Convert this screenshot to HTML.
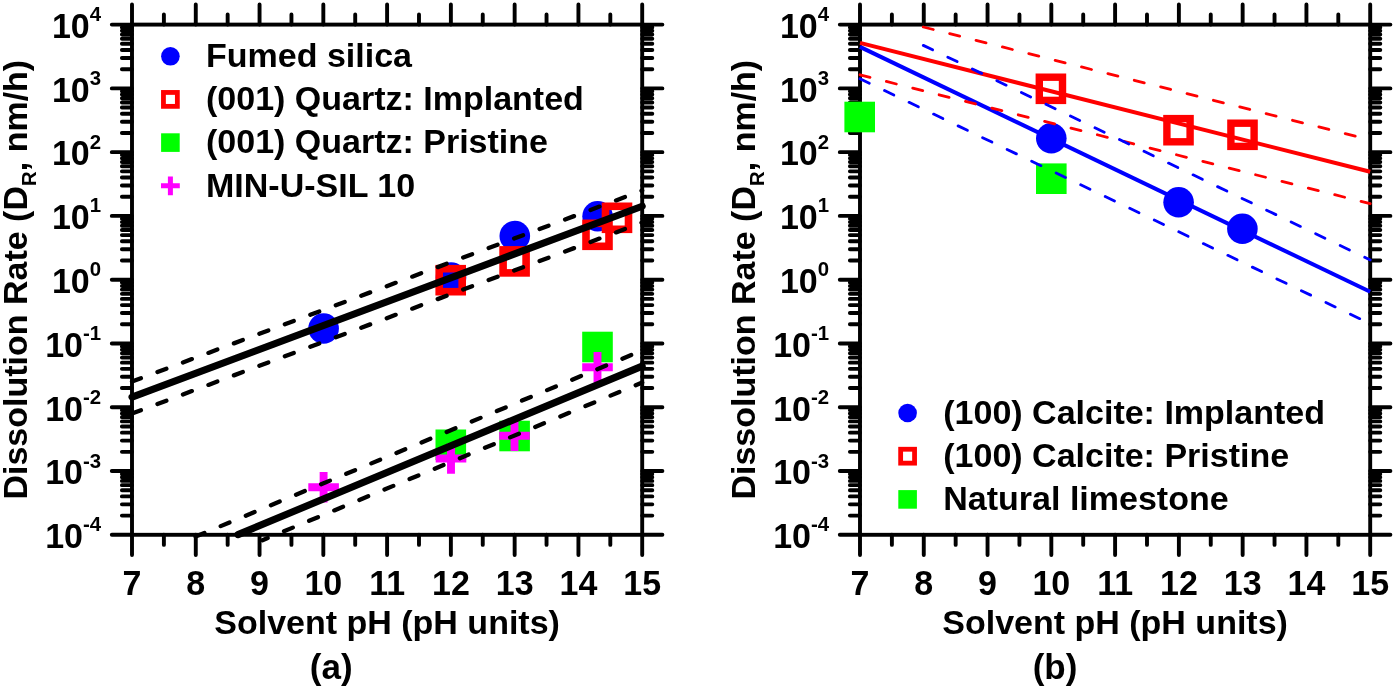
<!DOCTYPE html>
<html lang="en"><head><meta charset="utf-8"><title>Dissolution rate vs solvent pH</title>
<style>html,body{margin:0;padding:0;background:#fff}svg{display:block;will-change:transform}text{font-family:'Liberation Sans', Arial, Helvetica, sans-serif}</style>
</head><body>
<svg width="1395" height="688" viewBox="0 0 1395 688">
<rect width="1395" height="688" fill="#fff"/>
<g id="axes-a" stroke="#000" fill="none" stroke-linecap="round">
<rect x="132" y="24.6" width="510.2" height="510.2" stroke-width="3.9" stroke-linejoin="miter" stroke-linecap="butt"/>
<path stroke-width="3.9" d="M132 24.6v-20.2M132 534.8v20.2M163.89 24.6v-10.1M163.89 534.8v10.1M195.78 24.6v-20.2M195.78 534.8v20.2M227.66 24.6v-10.1M227.66 534.8v10.1M259.55 24.6v-20.2M259.55 534.8v20.2M291.44 24.6v-10.1M291.44 534.8v10.1M323.33 24.6v-20.2M323.33 534.8v20.2M355.21 24.6v-10.1M355.21 534.8v10.1M387.1 24.6v-20.2M387.1 534.8v20.2M418.99 24.6v-10.1M418.99 534.8v10.1M450.88 24.6v-20.2M450.88 534.8v20.2M482.76 24.6v-10.1M482.76 534.8v10.1M514.65 24.6v-20.2M514.65 534.8v20.2M546.54 24.6v-10.1M546.54 534.8v10.1M578.43 24.6v-20.2M578.43 534.8v20.2M610.31 24.6v-10.1M610.31 534.8v10.1M642.2 24.6v-20.2M642.2 534.8v20.2M132 534.8h-20.2M642.2 534.8h20.2M132 515.6h-10.1M642.2 515.6h10.1M132 504.37h-10.1M642.2 504.37h10.1M132 496.4h-10.1M642.2 496.4h10.1M132 490.22h-10.1M642.2 490.22h10.1M132 485.17h-10.1M642.2 485.17h10.1M132 480.9h-10.1M642.2 480.9h10.1M132 477.21h-10.1M642.2 477.21h10.1M132 473.94h-10.1M642.2 473.94h10.1M132 471.02h-20.2M642.2 471.02h20.2M132 451.83h-10.1M642.2 451.83h10.1M132 440.6h-10.1M642.2 440.6h10.1M132 432.63h-10.1M642.2 432.63h10.1M132 426.45h-10.1M642.2 426.45h10.1M132 421.4h-10.1M642.2 421.4h10.1M132 417.13h-10.1M642.2 417.13h10.1M132 413.43h-10.1M642.2 413.43h10.1M132 410.17h-10.1M642.2 410.17h10.1M132 407.25h-20.2M642.2 407.25h20.2M132 388.05h-10.1M642.2 388.05h10.1M132 376.82h-10.1M642.2 376.82h10.1M132 368.85h-10.1M642.2 368.85h10.1M132 362.67h-10.1M642.2 362.67h10.1M132 357.62h-10.1M642.2 357.62h10.1M132 353.35h-10.1M642.2 353.35h10.1M132 349.66h-10.1M642.2 349.66h10.1M132 346.39h-10.1M642.2 346.39h10.1M132 343.47h-20.2M642.2 343.47h20.2M132 324.28h-10.1M642.2 324.28h10.1M132 313.05h-10.1M642.2 313.05h10.1M132 305.08h-10.1M642.2 305.08h10.1M132 298.9h-10.1M642.2 298.9h10.1M132 293.85h-10.1M642.2 293.85h10.1M132 289.58h-10.1M642.2 289.58h10.1M132 285.88h-10.1M642.2 285.88h10.1M132 282.62h-10.1M642.2 282.62h10.1M132 279.7h-20.2M642.2 279.7h20.2M132 260.5h-10.1M642.2 260.5h10.1M132 249.27h-10.1M642.2 249.27h10.1M132 241.3h-10.1M642.2 241.3h10.1M132 235.12h-10.1M642.2 235.12h10.1M132 230.07h-10.1M642.2 230.07h10.1M132 225.8h-10.1M642.2 225.8h10.1M132 222.11h-10.1M642.2 222.11h10.1M132 218.84h-10.1M642.2 218.84h10.1M132 215.92h-20.2M642.2 215.92h20.2M132 196.73h-10.1M642.2 196.73h10.1M132 185.5h-10.1M642.2 185.5h10.1M132 177.53h-10.1M642.2 177.53h10.1M132 171.35h-10.1M642.2 171.35h10.1M132 166.3h-10.1M642.2 166.3h10.1M132 162.03h-10.1M642.2 162.03h10.1M132 158.33h-10.1M642.2 158.33h10.1M132 155.07h-10.1M642.2 155.07h10.1M132 152.15h-20.2M642.2 152.15h20.2M132 132.95h-10.1M642.2 132.95h10.1M132 121.72h-10.1M642.2 121.72h10.1M132 113.75h-10.1M642.2 113.75h10.1M132 107.57h-10.1M642.2 107.57h10.1M132 102.52h-10.1M642.2 102.52h10.1M132 98.25h-10.1M642.2 98.25h10.1M132 94.56h-10.1M642.2 94.56h10.1M132 91.29h-10.1M642.2 91.29h10.1M132 88.38h-20.2M642.2 88.38h20.2M132 69.18h-10.1M642.2 69.18h10.1M132 57.95h-10.1M642.2 57.95h10.1M132 49.98h-10.1M642.2 49.98h10.1M132 43.8h-10.1M642.2 43.8h10.1M132 38.75h-10.1M642.2 38.75h10.1M132 34.48h-10.1M642.2 34.48h10.1M132 30.78h-10.1M642.2 30.78h10.1M132 27.52h-10.1M642.2 27.52h10.1M132 24.6h-20.2M642.2 24.6h20.2"/>
</g>
<g id="ticklabels-a" font-size="34" font-weight="bold" fill="#000">
<g text-anchor="middle">
<text transform="translate(132 595.2) scale(1 1.035)">7</text>
<text transform="translate(195.78 595.2) scale(1 1.035)">8</text>
<text transform="translate(259.55 595.2) scale(1 1.035)">9</text>
<text transform="translate(323.33 595.2) scale(1 1.035)">10</text>
<text transform="translate(387.1 595.2) scale(1 1.035)">11</text>
<text transform="translate(450.88 595.2) scale(1 1.035)">12</text>
<text transform="translate(514.65 595.2) scale(1 1.035)">13</text>
<text transform="translate(578.43 595.2) scale(1 1.035)">14</text>
<text transform="translate(642.2 595.2) scale(1 1.035)">15</text>
</g>
<g text-anchor="end">
<text transform="translate(101.1 37.9) scale(1 1.035)">10<tspan font-size="20.4" dy="-16.23">4</tspan></text>
<text transform="translate(101.1 101.67) scale(1 1.035)">10<tspan font-size="20.4" dy="-16.23">3</tspan></text>
<text transform="translate(101.1 165.45) scale(1 1.035)">10<tspan font-size="20.4" dy="-16.23">2</tspan></text>
<text transform="translate(101.1 229.22) scale(1 1.035)">10<tspan font-size="20.4" dy="-16.23">1</tspan></text>
<text transform="translate(101.1 293) scale(1 1.035)">10<tspan font-size="20.4" dy="-16.23">0</tspan></text>
<text transform="translate(101.1 356.77) scale(1 1.035)">10<tspan font-size="20.4" dy="-16.23">-1</tspan></text>
<text transform="translate(101.1 420.55) scale(1 1.035)">10<tspan font-size="20.4" dy="-16.23">-2</tspan></text>
<text transform="translate(101.1 484.32) scale(1 1.035)">10<tspan font-size="20.4" dy="-16.23">-3</tspan></text>
<text transform="translate(101.1 548.1) scale(1 1.035)">10<tspan font-size="20.4" dy="-16.23">-4</tspan></text>
</g>
</g>
<g id="titles-a" font-size="34" font-weight="bold" fill="#000" text-anchor="middle">
<text x="387.1" y="634">Solvent pH (pH units)</text>
<text transform="translate(26.5 279.7) rotate(-90)">Dissolution Rate (D<tspan font-size="20.4" dy="9.3">R</tspan><tspan dy="-9.3">, nm/h)</tspan></text>
</g>
<g id="data-a">
<circle cx="323.6" cy="328.5" r="15.3" fill="#0000ff"/>
<circle cx="451" cy="277.6" r="15.3" fill="#0000ff"/>
<circle cx="514.8" cy="236" r="15.3" fill="#0000ff"/>
<circle cx="597.6" cy="216.3" r="15.3" fill="#0000ff"/>
<rect x="439.2" y="268.7" width="23" height="23" fill="none" stroke="#ff0000" stroke-width="7.6"/>
<rect x="503.1" y="249.9" width="23" height="23" fill="none" stroke="#ff0000" stroke-width="7.6"/>
<rect x="586" y="223.3" width="23" height="23" fill="none" stroke="#ff0000" stroke-width="7.6"/>
<rect x="605.5" y="206.3" width="23" height="23" fill="none" stroke="#ff0000" stroke-width="7.6"/>
<rect x="435.5" y="429.5" width="30.6" height="30.6" fill="#00ff00"/>
<rect x="499.3" y="420.7" width="30.6" height="30.6" fill="#00ff00"/>
<rect x="582.2" y="331.7" width="30.6" height="30.6" fill="#00ff00"/>
<path d="M308.3 487.2h30.6M323.6 471.9v30.6" stroke="#ff00ff" stroke-width="7.9" fill="none"/>
<path d="M435.7 458.5h30.6M451 443.2v30.6" stroke="#ff00ff" stroke-width="7.9" fill="none"/>
<path d="M499.2 435.8h30.6M514.5 420.5v30.6" stroke="#ff00ff" stroke-width="7.9" fill="none"/>
<path d="M582.2 367.3h30.6M597.5 352v30.6" stroke="#ff00ff" stroke-width="7.9" fill="none"/>
</g>
<g id="fits-a">
<line x1="132" y1="397.1" x2="642.2" y2="206.2" stroke="#000" stroke-width="7.1" stroke-linecap="round"/>
<line x1="132" y1="381.5" x2="642.2" y2="190.6" stroke="#000" stroke-width="4.3" stroke-linecap="round" stroke-dasharray="9.5 17.7"/>
<line x1="132" y1="413.5" x2="642.2" y2="222.6" stroke="#000" stroke-width="4.3" stroke-linecap="round" stroke-dasharray="9.5 17.7"/>
<line x1="238" y1="534.6" x2="642.2" y2="366.1" stroke="#000" stroke-width="7.1" stroke-linecap="round"/>
<line x1="195.6" y1="536.6" x2="642.2" y2="350.5" stroke="#000" stroke-width="4.3" stroke-linecap="round" stroke-dasharray="9.5 17.7"/>
<line x1="262.5" y1="540.2" x2="642.2" y2="382.5" stroke="#000" stroke-width="4.3" stroke-linecap="round" stroke-dasharray="9.5 17.7" stroke-dashoffset="3.9"/>
</g>
<g id="legend-a" font-size="34" font-weight="bold" fill="#000">
<circle cx="170.4" cy="56.3" r="9.3" fill="#0000ff"/>
<rect x="163.45" y="92.45" width="13.9" height="13.9" fill="none" stroke="#ff0000" stroke-width="4.8"/>
<rect x="161.1" y="133.3" width="18.6" height="18.6" fill="#00ff00"/>
<path d="M161 185.8h18.8M170.4 176.4v18.8" stroke="#ff00ff" stroke-width="5" fill="none"/>
<text x="206" y="67">Fumed silica</text>
<text x="206" y="110.1">(001) Quartz: Implanted</text>
<text x="206" y="153.3">(001) Quartz: Pristine</text>
<text x="206" y="196.5">MIN-U-SIL 10</text>
</g>
<text x="331.2" y="679.1" font-size="35" font-weight="bold" text-anchor="middle">(a)</text>
<g id="axes-b" stroke="#000" fill="none" stroke-linecap="round">
<rect x="860" y="24.6" width="510.2" height="510.2" stroke-width="3.9" stroke-linejoin="miter" stroke-linecap="butt"/>
<path stroke-width="3.9" d="M860 24.6v-20.2M860 534.8v20.2M891.89 24.6v-10.1M891.89 534.8v10.1M923.77 24.6v-20.2M923.77 534.8v20.2M955.66 24.6v-10.1M955.66 534.8v10.1M987.55 24.6v-20.2M987.55 534.8v20.2M1019.44 24.6v-10.1M1019.44 534.8v10.1M1051.33 24.6v-20.2M1051.33 534.8v20.2M1083.21 24.6v-10.1M1083.21 534.8v10.1M1115.1 24.6v-20.2M1115.1 534.8v20.2M1146.99 24.6v-10.1M1146.99 534.8v10.1M1178.88 24.6v-20.2M1178.88 534.8v20.2M1210.76 24.6v-10.1M1210.76 534.8v10.1M1242.65 24.6v-20.2M1242.65 534.8v20.2M1274.54 24.6v-10.1M1274.54 534.8v10.1M1306.43 24.6v-20.2M1306.43 534.8v20.2M1338.31 24.6v-10.1M1338.31 534.8v10.1M1370.2 24.6v-20.2M1370.2 534.8v20.2M860 534.8h-20.2M1370.2 534.8h20.2M860 515.6h-10.1M1370.2 515.6h10.1M860 504.37h-10.1M1370.2 504.37h10.1M860 496.4h-10.1M1370.2 496.4h10.1M860 490.22h-10.1M1370.2 490.22h10.1M860 485.17h-10.1M1370.2 485.17h10.1M860 480.9h-10.1M1370.2 480.9h10.1M860 477.21h-10.1M1370.2 477.21h10.1M860 473.94h-10.1M1370.2 473.94h10.1M860 471.02h-20.2M1370.2 471.02h20.2M860 451.83h-10.1M1370.2 451.83h10.1M860 440.6h-10.1M1370.2 440.6h10.1M860 432.63h-10.1M1370.2 432.63h10.1M860 426.45h-10.1M1370.2 426.45h10.1M860 421.4h-10.1M1370.2 421.4h10.1M860 417.13h-10.1M1370.2 417.13h10.1M860 413.43h-10.1M1370.2 413.43h10.1M860 410.17h-10.1M1370.2 410.17h10.1M860 407.25h-20.2M1370.2 407.25h20.2M860 388.05h-10.1M1370.2 388.05h10.1M860 376.82h-10.1M1370.2 376.82h10.1M860 368.85h-10.1M1370.2 368.85h10.1M860 362.67h-10.1M1370.2 362.67h10.1M860 357.62h-10.1M1370.2 357.62h10.1M860 353.35h-10.1M1370.2 353.35h10.1M860 349.66h-10.1M1370.2 349.66h10.1M860 346.39h-10.1M1370.2 346.39h10.1M860 343.47h-20.2M1370.2 343.47h20.2M860 324.28h-10.1M1370.2 324.28h10.1M860 313.05h-10.1M1370.2 313.05h10.1M860 305.08h-10.1M1370.2 305.08h10.1M860 298.9h-10.1M1370.2 298.9h10.1M860 293.85h-10.1M1370.2 293.85h10.1M860 289.58h-10.1M1370.2 289.58h10.1M860 285.88h-10.1M1370.2 285.88h10.1M860 282.62h-10.1M1370.2 282.62h10.1M860 279.7h-20.2M1370.2 279.7h20.2M860 260.5h-10.1M1370.2 260.5h10.1M860 249.27h-10.1M1370.2 249.27h10.1M860 241.3h-10.1M1370.2 241.3h10.1M860 235.12h-10.1M1370.2 235.12h10.1M860 230.07h-10.1M1370.2 230.07h10.1M860 225.8h-10.1M1370.2 225.8h10.1M860 222.11h-10.1M1370.2 222.11h10.1M860 218.84h-10.1M1370.2 218.84h10.1M860 215.92h-20.2M1370.2 215.92h20.2M860 196.73h-10.1M1370.2 196.73h10.1M860 185.5h-10.1M1370.2 185.5h10.1M860 177.53h-10.1M1370.2 177.53h10.1M860 171.35h-10.1M1370.2 171.35h10.1M860 166.3h-10.1M1370.2 166.3h10.1M860 162.03h-10.1M1370.2 162.03h10.1M860 158.33h-10.1M1370.2 158.33h10.1M860 155.07h-10.1M1370.2 155.07h10.1M860 152.15h-20.2M1370.2 152.15h20.2M860 132.95h-10.1M1370.2 132.95h10.1M860 121.72h-10.1M1370.2 121.72h10.1M860 113.75h-10.1M1370.2 113.75h10.1M860 107.57h-10.1M1370.2 107.57h10.1M860 102.52h-10.1M1370.2 102.52h10.1M860 98.25h-10.1M1370.2 98.25h10.1M860 94.56h-10.1M1370.2 94.56h10.1M860 91.29h-10.1M1370.2 91.29h10.1M860 88.38h-20.2M1370.2 88.38h20.2M860 69.18h-10.1M1370.2 69.18h10.1M860 57.95h-10.1M1370.2 57.95h10.1M860 49.98h-10.1M1370.2 49.98h10.1M860 43.8h-10.1M1370.2 43.8h10.1M860 38.75h-10.1M1370.2 38.75h10.1M860 34.48h-10.1M1370.2 34.48h10.1M860 30.78h-10.1M1370.2 30.78h10.1M860 27.52h-10.1M1370.2 27.52h10.1M860 24.6h-20.2M1370.2 24.6h20.2"/>
</g>
<g id="ticklabels-b" font-size="34" font-weight="bold" fill="#000">
<g text-anchor="middle">
<text transform="translate(860 595.2) scale(1 1.035)">7</text>
<text transform="translate(923.77 595.2) scale(1 1.035)">8</text>
<text transform="translate(987.55 595.2) scale(1 1.035)">9</text>
<text transform="translate(1051.33 595.2) scale(1 1.035)">10</text>
<text transform="translate(1115.1 595.2) scale(1 1.035)">11</text>
<text transform="translate(1178.88 595.2) scale(1 1.035)">12</text>
<text transform="translate(1242.65 595.2) scale(1 1.035)">13</text>
<text transform="translate(1306.43 595.2) scale(1 1.035)">14</text>
<text transform="translate(1370.2 595.2) scale(1 1.035)">15</text>
</g>
<g text-anchor="end">
<text transform="translate(829.1 37.9) scale(1 1.035)">10<tspan font-size="20.4" dy="-16.23">4</tspan></text>
<text transform="translate(829.1 101.67) scale(1 1.035)">10<tspan font-size="20.4" dy="-16.23">3</tspan></text>
<text transform="translate(829.1 165.45) scale(1 1.035)">10<tspan font-size="20.4" dy="-16.23">2</tspan></text>
<text transform="translate(829.1 229.22) scale(1 1.035)">10<tspan font-size="20.4" dy="-16.23">1</tspan></text>
<text transform="translate(829.1 293) scale(1 1.035)">10<tspan font-size="20.4" dy="-16.23">0</tspan></text>
<text transform="translate(829.1 356.77) scale(1 1.035)">10<tspan font-size="20.4" dy="-16.23">-1</tspan></text>
<text transform="translate(829.1 420.55) scale(1 1.035)">10<tspan font-size="20.4" dy="-16.23">-2</tspan></text>
<text transform="translate(829.1 484.32) scale(1 1.035)">10<tspan font-size="20.4" dy="-16.23">-3</tspan></text>
<text transform="translate(829.1 548.1) scale(1 1.035)">10<tspan font-size="20.4" dy="-16.23">-4</tspan></text>
</g>
</g>
<g id="titles-b" font-size="34" font-weight="bold" fill="#000" text-anchor="middle">
<text x="1115.1" y="634">Solvent pH (pH units)</text>
<text transform="translate(754.5 279.7) rotate(-90)">Dissolution Rate (D<tspan font-size="20.4" dy="9.3">R</tspan><tspan dy="-9.3">, nm/h)</tspan></text>
</g>
<g id="data-b">
<circle cx="1051.3" cy="138.3" r="15.3" fill="#0000ff"/>
<circle cx="1178.6" cy="202.2" r="15.3" fill="#0000ff"/>
<circle cx="1242.4" cy="228.8" r="15.3" fill="#0000ff"/>
<rect x="1039.3" y="77.2" width="23.2" height="23.2" fill="none" stroke="#ff0000" stroke-width="7.4"/>
<rect x="1166.9" y="118.6" width="23.2" height="23.2" fill="none" stroke="#ff0000" stroke-width="7.4"/>
<rect x="1230.9" y="123.2" width="23.2" height="23.2" fill="none" stroke="#ff0000" stroke-width="7.4"/>
<rect x="844.4" y="101.7" width="30.6" height="30.6" fill="#00ff00"/>
<rect x="1036" y="163.4" width="30.6" height="30.6" fill="#00ff00"/>
</g>
<g id="fits-b">
<line x1="860" y1="46.9" x2="1370.2" y2="291.8" stroke="#0000ff" stroke-width="4" stroke-linecap="butt"/>
<line x1="860" y1="42.9" x2="1370.2" y2="171.8" stroke="#ff0000" stroke-width="4" stroke-linecap="butt"/>
<line x1="923.3" y1="26.99" x2="1370.2" y2="139.9" stroke="#ff0000" stroke-width="2.8" stroke-linecap="round" stroke-dasharray="10.3 16.9"/>
<line x1="860" y1="74.8" x2="1370.2" y2="203.7" stroke="#ff0000" stroke-width="2.8" stroke-linecap="round" stroke-dasharray="10.3 16.9"/>
<line x1="923.3" y1="45.38" x2="1370.2" y2="259.9" stroke="#0000ff" stroke-width="2.8" stroke-linecap="round" stroke-dasharray="10.3 16.9"/>
<line x1="860" y1="78.8" x2="1370.2" y2="323.7" stroke="#0000ff" stroke-width="2.8" stroke-linecap="round" stroke-dasharray="10.3 16.9"/>
</g>
<g id="legend-b" font-size="34" font-weight="bold" fill="#000">
<circle cx="907.6" cy="413" r="9.3" fill="#0000ff"/>
<rect x="900.65" y="449.25" width="13.9" height="13.9" fill="none" stroke="#ff0000" stroke-width="4.8"/>
<rect x="898.3" y="490.1" width="18.6" height="18.6" fill="#00ff00"/>
<text x="943.3" y="423.7">(100) Calcite: Implanted</text>
<text x="943.3" y="466.9">(100) Calcite: Pristine</text>
<text x="943.3" y="510.1">Natural limestone</text>
</g>
<text x="1055" y="679.1" font-size="35" font-weight="bold" text-anchor="middle">(b)</text>
</svg>
</body></html>
